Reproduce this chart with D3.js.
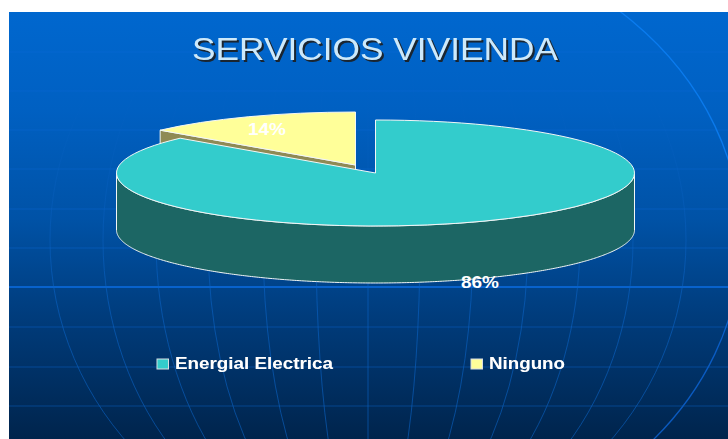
<!DOCTYPE html>
<html><head><meta charset="utf-8">
<script src="https://cdn.jsdelivr.net/npm/d3@7/dist/d3.min.js"></script>
<style>html,body{margin:0;padding:0;background:#fff;overflow:hidden}svg{display:block}text{font-family:"Liberation Sans",Arial,sans-serif}</style>
</head><body><svg id="c" width="728" height="439"></svg>
<script>
const chartTitle = "SERVICIOS VIVIENDA";
const categories = ["Energial Electrica", "Ninguno"];
const values = [86.4, 13.6];
const topColors = ["#33cccc", "#ffff99"];
const sideColors = ["#1c6664", "#8f8a55"];
const latitudes = [52, 91, 130, 169, 209, 248, 327, 367, 406];
const equator = 287;
const meridians = [-318, -265, -212, -160, -105, -52, 0, 52, 105, 160, 212, 265, 318];
const W = 728, H = 439, cx = 375.5, cy = 173, rx = 259, ry = 53, depth = 57;
const offsets = [[0, 0], [-20, -8]];

const svg = d3.select("#c");
const defs = svg.append("defs");
const vgrad = (id, stops, y1, y2) => {
  const g = defs.append("linearGradient").attr("id", id).attr("gradientUnits", "userSpaceOnUse")
    .attr("x1", 0).attr("x2", 0).attr("y1", y1).attr("y2", y2);
  stops.forEach(([o, c, a]) => g.append("stop").attr("offset", o).attr("stop-color", c).attr("stop-opacity", a));
};
vgrad("bg", [[0, "#0068d0", 1], [.25, "#0060c2", 1], [.5, "#0052a6", 1], [.72, "#003c7c", 1], [1, "#00244c", 1]], 0, H);
vgrad("merFade", [[0, "#0a62c4", 0], [.25, "#0a62c4", .12], [.65, "#0a62c4", .6], [1, "#0a62c4", .6]], 0, H);
vgrad("rimFade", [[0, "#0a7cf0", 1], [.45, "#0a78ea", 1], [.8, "#0a5cc4", 1], [1, "#0a58bc", 1]], 0, H);
defs.append("clipPath").attr("id", "pane").append("rect").attr("x", 9).attr("y", 12).attr("width", W - 9).attr("height", H - 12);

const bg = svg.append("g").attr("clip-path", "url(#pane)");
bg.append("rect").attr("x", 9).attr("y", 12).attr("width", W - 9).attr("height", H - 12).attr("fill", "url(#bg)");
bg.selectAll("line.lat").data(latitudes).join("line").attr("x1", 9).attr("x2", W)
  .attr("y1", d => d).attr("y2", d => d).attr("stroke", "#0a6ad6").attr("stroke-opacity", .42).attr("stroke-width", 1);
bg.append("line").attr("x1", 9).attr("x2", W).attr("y1", equator).attr("y2", equator).attr("stroke", "#0862cc").attr("stroke-width", 2.2);
const gcx = 368, gcy = 240, gb = 310;
bg.selectAll("path.mer").data(meridians).join("path")
  .attr("d", a => a === 0 ? `M${gcx},${gcy - gb}V${gcy + gb}` : `M${gcx},${gcy - gb}A${Math.abs(a)},${gb} 0 0 ${a > 0 ? 1 : 0} ${gcx},${gcy + gb}`)
  .attr("fill", "none").attr("stroke", "url(#merFade)").attr("stroke-width", 1);
bg.append("path").attr("d", `M${gcx},${gcy - gb}A373,${gb} 0 0 1 ${gcx},${gcy + gb}`)
  .attr("fill", "none").attr("stroke", "url(#rimFade)").attr("stroke-width", 1.3);

svg.append("text").text(chartTitle).attr("x", 375).attr("y", 60).attr("text-anchor", "middle")
  .attr("font-size", 32).attr("fill", "#cde9fa").attr("textLength", 366).attr("lengthAdjust", "spacingAndGlyphs")
  .style("filter", "drop-shadow(2px 2px 0 #1a2530)");

const pie = d3.pie().sort(null).startAngle(0).endAngle(2 * Math.PI)(values);
const arc = d3.arc().innerRadius(0).outerRadius(rx);
const px = (a, i) => cx + offsets[i][0] + rx * Math.sin(a);
const py = (a, i) => cy + offsets[i][1] - ry * Math.cos(a);
const line = d3.line();
const white = "#f2f6f6";

[1, 0].forEach(i => {
  const s = pie[i], g = svg.append("g");
  const ox = cx + offsets[i][0], oy = cy + offsets[i][1];
  if (i === 1) {
    g.append("path").attr("d", line([[px(s.startAngle, 1), py(s.startAngle, 1)], [ox, oy], [ox, oy + depth], [px(s.startAngle, 1), py(s.startAngle, 1) + depth]]) + "Z")
      .attr("fill", sideColors[1]).attr("stroke", white).attr("stroke-width", 1);
  } else {
    const lo = Math.max(s.startAngle, Math.PI / 2), hi = Math.min(s.endAngle, 3 * Math.PI / 2);
    const as = d3.range(lo, hi, .01).concat([hi]);
    const upper = as.map(a => [px(a, 0), py(a, 0)]);
    const lower = as.slice().reverse().map(a => [px(a, 0), py(a, 0) + depth]);
    g.append("path").attr("d", line(upper.concat(lower)) + "Z").attr("fill", sideColors[0]).attr("stroke", white).attr("stroke-width", 1);
  }
  g.append("path").attr("d", arc(s)).attr("transform", `translate(${ox},${oy}) scale(1,${ry / rx})`)
    .attr("fill", topColors[i]).attr("stroke", white).attr("stroke-width", 1).attr("vector-effect", "non-scaling-stroke");
});

const pct = d3.format(".0%"), total = d3.sum(values);
const labelPos = [[480, 288], [267, 135]];
values.forEach((v, i) => svg.append("text").text(pct(v / total)).attr("x", labelPos[i][0]).attr("y", labelPos[i][1])
  .attr("font-size", 16).attr("font-weight", "bold").attr("fill", "#fff").attr("text-anchor", "middle")
  .attr("textLength", 38).attr("lengthAdjust", "spacingAndGlyphs"));

const legendX = [157, 471], legendW = [158, 76];
categories.forEach((c, i) => {
  const g = svg.append("g");
  g.append("rect").attr("x", legendX[i]).attr("y", 359).attr("width", 11.5).attr("height", 10)
    .attr("fill", topColors[i]).attr("stroke", "#d8dde2").attr("stroke-width", 1);
  g.append("text").text(c).attr("x", legendX[i] + 18).attr("y", 369).attr("font-size", 17).attr("font-weight", "bold")
    .attr("fill", "#fff").attr("textLength", legendW[i]).attr("lengthAdjust", "spacingAndGlyphs")
    .style("filter", "drop-shadow(.6px .6px 0 rgba(120,140,160,.7))");
});
</script></body></html>
